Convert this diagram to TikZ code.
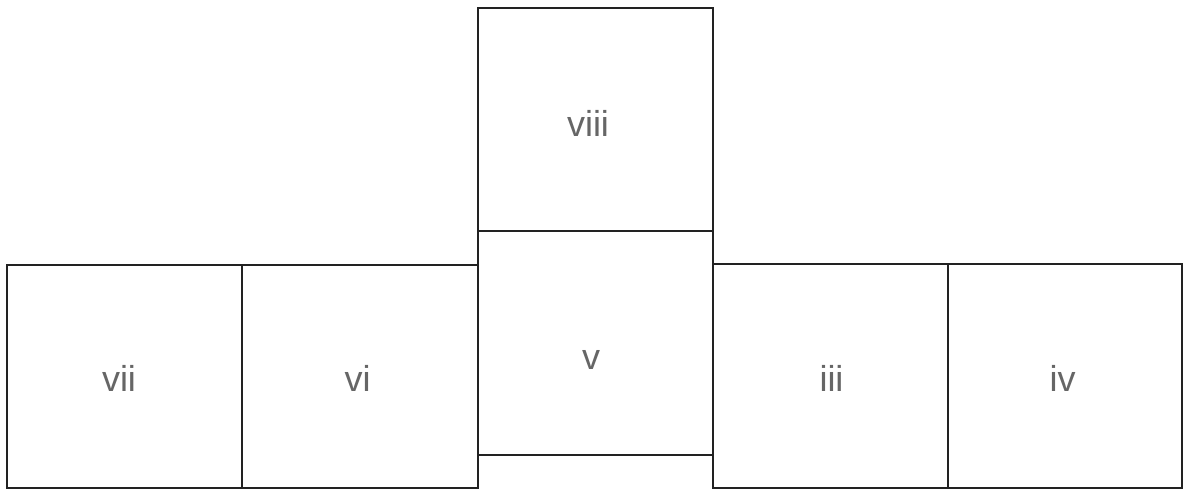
\documentclass[tikz,border=0pt]{standalone}
\usepackage{fontspec}
\setmainfont{Liberation Sans}
\definecolor{edge}{HTML}{222222}
\definecolor{txt}{HTML}{666666}
\begin{document}
\begin{tikzpicture}[x=1pt,y=-1pt,
  face/.style={draw=edge,line width=2.5pt,fill=white},
  lbl/.style={text=txt,anchor=base,inner sep=0pt,font=\fontsize{36}{42}\selectfont}]
\useasboundingbox (0,0) rectangle (1183,489);
\draw[face] (7,265) rectangle (242,488);
\draw[face] (242,265) rectangle (478,488);
\draw[face] (713,264) rectangle (948,488);
\draw[face] (948,264) rectangle (1182,488);
\draw[face] (478,8) rectangle (713,231);
\draw[face] (478,231) rectangle (713,455);
\node[lbl] (tviii) at (588,137) {viii};
\node[lbl] (tv) at (591,369) {v};
\node[lbl] (tvii) at (119,391) {vii};
\node[lbl] (tvi) at (357.5,391) {vi};
\node[lbl] (tiii) at (831.5,391) {iii};
\node[lbl] (tiv) at (1062.5,391) {iv};
\end{tikzpicture}
\end{document}
